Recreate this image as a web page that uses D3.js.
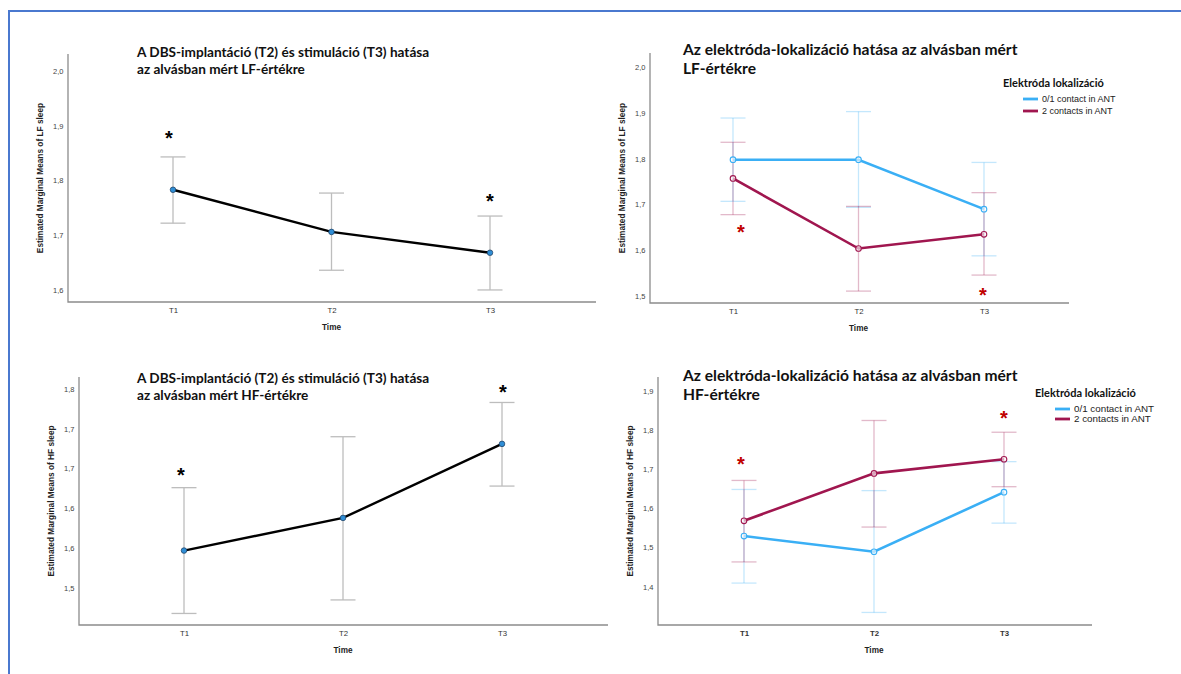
<!DOCTYPE html>
<html>
<head>
<meta charset="utf-8">
<script src="https://cdn.jsdelivr.net/npm/d3@7"></script>
<style>
body { margin: 0; background: #fff; }
svg { display: block; font-family: "Liberation Sans", Arial, sans-serif; }
.title, .legend-title { font-family: Lato, "Open Sans", sans-serif; font-weight: 700; }
</style>
</head>
<body>
<svg id="chart" width="1181" height="674"></svg>
<script>
const times = ["T1", "T2", "T3"];
const groups = ["0/1 contact in ANT", "2 contacts in ANT"];
const groupColors = ["#3aaff5", "#a0164f"];

// LF sleep, all patients
const lfMean = [1.783, 1.706, 1.668];
const lfLow = [1.722, 1.636, 1.600];
const lfHigh = [1.843, 1.777, 1.735];
const lfTicks = [1.6, 1.7, 1.8, 1.9, 2.0];
const lfTickLabels = ["1,6", "1,7", "1,8", "1,9", "2,0"];
const lfStars = [{ time: "T1", value: 1.887 }, { time: "T3", value: 1.772 }];

// LF sleep by electrode localisation
const lfAMean = [1.798, 1.798, 1.690];
const lfALow = [1.707, 1.694, 1.588];
const lfAHigh = [1.889, 1.903, 1.792];
const lfBMean = [1.757, 1.604, 1.635];
const lfBLow = [1.678, 1.511, 1.546];
const lfBHigh = [1.836, 1.696, 1.726];
const lfGroupTicks = [1.5, 1.6, 1.7, 1.8, 1.9, 2.0];
const lfGroupTickLabels = ["1,5", "1,6", "1,7", "1,8", "1,9", "2,0"];
const lfGroupStars = [{ time: "T1", value: 1.651 }, { time: "T3", value: 1.513 }];

// HF sleep, all patients
const hfMean = [1.597, 1.638, 1.731];
const hfLow = [1.518, 1.535, 1.678];
const hfHigh = [1.676, 1.740, 1.783];
const hfTicks = [1.55, 1.60, 1.65, 1.70, 1.75, 1.80];
const hfTickLabels = ["1,5", "1,6", "1,6", "1,7", "1,7", "1,8"];
const hfStars = [{ time: "T1", value: 1.698 }, { time: "T3", value: 1.802 }];

// HF sleep by electrode localisation
const hfAMean = [1.529, 1.489, 1.641];
const hfALow = [1.409, 1.334, 1.562];
const hfAHigh = [1.648, 1.645, 1.719];
const hfBMean = [1.568, 1.689, 1.725];
const hfBLow = [1.463, 1.552, 1.655];
const hfBHigh = [1.671, 1.824, 1.794];
const hfGroupTicks = [1.4, 1.5, 1.6, 1.7, 1.8, 1.9];
const hfGroupTickLabels = ["1,4", "1,5", "1,6", "1,7", "1,8", "1,9"];
const hfGroupStars = [{ time: "T1", value: 1.726 }, { time: "T3", value: 1.843 }];

const panels = [
    {
        title: ["A DBS-implantáció (T2) és stimuláció (T3) hatása", "az alvásban mért LF-értékre"],
        yLabel: "Estimated Marginal Means of LF sleep",
        series: [{ mean: lfMean, low: lfLow, high: lfHigh }],
        ticks: lfTicks, tickLabels: lfTickLabels, stars: lfStars, starDx: [-4, 0],
        domain: [1.578, 2.031],
        left: 68, right: 596, top: 54, bottom: 302, t1: 173, t3: 490,
        titleX: 137, titleY: 57, titleSize: 13.6, titleGap: 16.5
    },
    {
        title: ["Az elektróda-lokalizáció hatása az alvásban mért", "LF-értékre"],
        yLabel: "Estimated Marginal Means of LF sleep",
        series: [
            { mean: lfAMean, low: lfALow, high: lfAHigh },
            { mean: lfBMean, low: lfBLow, high: lfBHigh }
        ],
        ticks: lfGroupTicks, tickLabels: lfGroupTickLabels, stars: lfGroupStars, starDx: [8, -1],
        domain: [1.485, 2.031],
        left: 650, right: 1069, top: 53, bottom: 303, t1: 733, t3: 984,
        titleX: 683, titleY: 55, titleSize: 15.6, titleGap: 19,
        legend: { x: 1003, y: 87, gap: 12, size: 9 }
    },
    {
        title: ["A DBS-implantáció (T2) és stimuláció (T3) hatása", "az alvásban mért HF-értékre"],
        yLabel: "Estimated Marginal Means of HF sleep",
        series: [{ mean: hfMean, low: hfLow, high: hfHigh }],
        ticks: hfTicks, tickLabels: hfTickLabels, stars: hfStars, starDx: [-3, 1],
        domain: [1.5035, 1.815],
        left: 79, right: 608, top: 377, bottom: 625, t1: 184, t3: 502,
        titleX: 137, titleY: 383, titleSize: 13.6, titleGap: 17
    },
    {
        title: ["Az elektróda-lokalizáció hatása az alvásban mért", "HF-értékre"],
        yLabel: "Estimated Marginal Means of HF sleep",
        series: [
            { mean: hfAMean, low: hfALow, high: hfAHigh },
            { mean: hfBMean, low: hfBLow, high: hfBHigh }
        ],
        ticks: hfGroupTicks, tickLabels: hfGroupTickLabels, stars: hfGroupStars, starDx: [-3, 0],
        domain: [1.302, 1.935],
        left: 658, right: 1092, top: 377, bottom: 625, t1: 744, t3: 1004,
        titleX: 683, titleY: 381, titleSize: 15.6, titleGap: 18.5,
        legend: { x: 1035, y: 397, gap: 10, size: 9.8 }, boldTimes: true
    }
];

const svg = d3.select('#chart');

// page frame (blue lines top and left)
svg.append('path')
    .attr('d', 'M9,674 V11 H1181')
    .attr('fill', 'none')
    .attr('stroke', '#4a78cf')
    .attr('stroke-width', 2);

function drawPanel(p) {
    const g = svg.append('g');
    const grouped = p.series.length > 1;
    const x = d3.scalePoint().domain(times).range([p.t1, p.t3]);
    const y = d3.scaleLinear().domain(p.domain).range([p.bottom, p.top]);

    // axis lines
    g.append('path')
        .attr('d', `M${p.left},${p.top} V${p.bottom} H${p.right}`)
        .attr('fill', 'none')
        .attr('stroke', '#8c8c8c')
        .attr('stroke-width', 1.3);

    const yAxis = g.append('g')
        .attr('transform', `translate(${p.left},0)`)
        .call(d3.axisLeft(y).tickValues(p.ticks)
            .tickFormat((d, i) => p.tickLabels[i])
            .tickSize(0).tickPadding(4.5));
    yAxis.select('.domain').remove();
    yAxis.selectAll('text')
        .attr('font-family', '"Liberation Sans", Arial, sans-serif')
        .attr('font-size', 7.5)
        .attr('fill', '#444');

    const xAxis = g.append('g')
        .attr('transform', `translate(0,${p.bottom})`)
        .call(d3.axisBottom(x).tickSize(0).tickPadding(5));
    xAxis.select('.domain').remove();
    xAxis.selectAll('text')
        .attr('font-family', '"Liberation Sans", Arial, sans-serif')
        .attr('font-size', 7.8)
        .attr('font-weight', p.boldTimes ? 700 : 400)
        .attr('fill', '#333');

    g.append('text')
        .attr('x', x('T2'))
        .attr('y', p.bottom + 28)
        .attr('text-anchor', 'middle')
        .attr('font-size', 8.2)
        .attr('font-weight', 700)
        .attr('fill', '#222')
        .text('Time');

    g.append('text')
        .attr('transform', `translate(${p.left - 25},${(p.top + p.bottom) / 2}) rotate(-90)`)
        .attr('text-anchor', 'middle')
        .attr('font-size', 8.3)
        .attr('font-weight', 700)
        .attr('fill', '#222')
        .text(p.yLabel);

    // title
    const title = g.append('text')
        .attr('class', 'title')
        .attr('x', p.titleX)
        .attr('y', p.titleY)
        .attr('font-size', p.titleSize)
        .attr('fill', '#111');
    title.selectAll('tspan')
        .data(p.title)
        .enter().append('tspan')
        .attr('x', p.titleX)
        .attr('dy', (d, i) => i === 0 ? 0 : p.titleGap)
        .text(d => d);

    // error bars first
    p.series.forEach((s, k) => {
        const col = grouped ? groupColors[k] : '#bdbdbd';
        const op = grouped ? 0.3 : 1;
        const bars = g.append('g')
            .attr('stroke', col)
            .attr('stroke-opacity', op)
            .attr('stroke-width', 1.3);
        times.forEach((t, i) => {
            bars.append('line')
                .attr('x1', x(t)).attr('x2', x(t))
                .attr('y1', y(s.low[i])).attr('y2', y(s.high[i]));
            [s.low[i], s.high[i]].forEach(v => {
                bars.append('line')
                    .attr('x1', x(t) - 12.5).attr('x2', x(t) + 12.5)
                    .attr('y1', y(v)).attr('y2', y(v));
            });
        });
    });

    const line = d3.line()
        .x((d, i) => x(times[i]))
        .y(d => y(d));

    p.series.forEach((s, k) => {
        g.append('path')
            .datum(s.mean)
            .attr('fill', 'none')
            .attr('stroke', grouped ? groupColors[k] : '#000')
            .attr('stroke-width', grouped ? 2.6 : 2.4)
            .attr('d', line);

        g.selectAll(null)
            .data(s.mean)
            .enter().append('circle')
            .attr('cx', (d, i) => x(times[i]))
            .attr('cy', d => y(d))
            .attr('r', 2.8)
            .attr('fill', grouped ? '#fff' : '#2f8ed6')
            .attr('fill-opacity', grouped ? 0.6 : 1)
            .attr('stroke', grouped ? groupColors[k] : '#1d3b5c')
            .attr('stroke-width', grouped ? 1.1 : 0.7);
    });

    // significance marks
    g.selectAll(null)
        .data(p.stars)
        .enter().append('text')
        .attr('x', (d, i) => x(d.time) + p.starDx[i])
        .attr('y', d => y(d.value))
        .attr('dy', '0.6em')
        .attr('text-anchor', 'middle')
        .attr('font-size', 20)
        .attr('font-weight', 700)
        .attr('fill', grouped ? '#c00000' : '#000')
        .text('*');

    if (p.legend) {
        const lg = g.append('g');
        lg.append('text')
            .attr('class', 'legend-title')
            .attr('x', p.legend.x)
            .attr('y', p.legend.y)
            .attr('font-size', 11)
            .attr('fill', '#111')
            .text('Elektróda lokalizáció');
        const items = lg.selectAll('.item')
            .data(groups)
            .enter().append('g')
            .attr('class', 'item')
            .attr('transform', (d, i) =>
                `translate(${p.legend.x + 20},${p.legend.y + 12 + i * p.legend.gap})`);
        items.append('line')
            .attr('x1', 0).attr('x2', 15)
            .attr('stroke', (d, i) => groupColors[i])
            .attr('stroke-width', 2.8);
        items.append('text')
            .attr('x', 19)
            .attr('y', 3)
            .attr('font-size', p.legend.size)
            .attr('fill', '#222')
            .text(d => d);
    }
}

panels.forEach(drawPanel);
</script>
</body>
</html>
